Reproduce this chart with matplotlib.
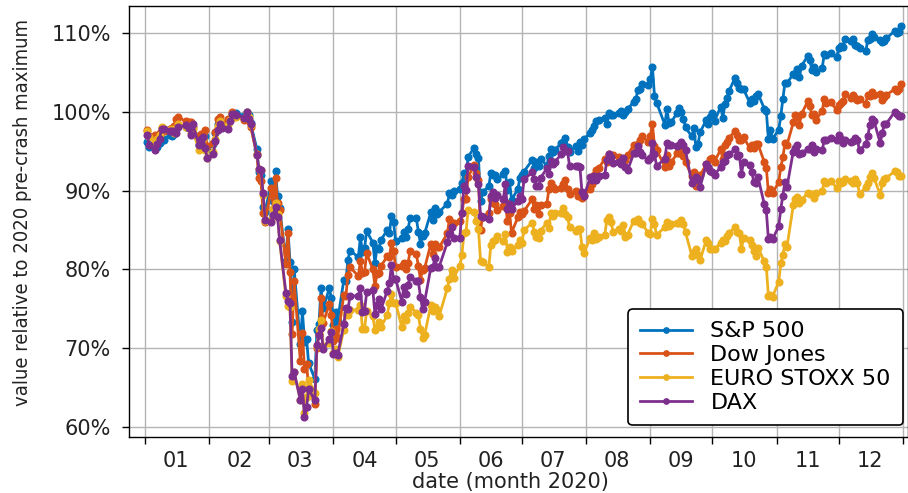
import matplotlib
matplotlib.use("Agg")
import matplotlib.pyplot as plt
import matplotlib.dates as mdates
from matplotlib.ticker import MultipleLocator, FuncFormatter, NullFormatter
import numpy as np
import pandas as pd

# ---------------- data: daily closes 2020 (one value per US trading day) ----------------
holidays = ['2020-01-01', '2020-01-20', '2020-02-17', '2020-04-10', '2020-05-25',
            '2020-07-03', '2020-09-07', '2020-11-26', '2020-12-25']
dates = pd.bdate_range('2020-01-02', '2020-12-31', freq='C', holidays=holidays)

sp500 = [
    3257.85, 3234.85, 3246.28, 3237.18, 3253.05, 3274.70, 3265.35, 3288.13, 3283.15, 3289.29, 3316.81, 3329.62, 3320.79, 3321.75, 3325.54, 3295.47, 3243.63, 3276.24, 3273.40, 3283.66, 3225.52,
    3248.92, 3297.59, 3334.69, 3345.78, 3327.71, 3352.09, 3357.75, 3379.45, 3373.94, 3380.16, 3370.29, 3386.15, 3373.23, 3337.75, 3225.89, 3128.21, 3116.39, 2978.76, 2954.22,
    3090.23, 3003.37, 3130.12, 3023.94, 2972.37, 2746.56, 2882.23, 2741.38, 2480.64, 2711.02, 2386.13, 2529.19, 2398.10, 2409.39, 2304.92, 2237.40, 2447.33, 2475.56, 2630.07, 2541.47, 2626.65, 2584.59,
    2470.50, 2526.90, 2488.65, 2663.68, 2659.41, 2749.98, 2789.82, 2761.63, 2846.06, 2783.36, 2799.55, 2874.56, 2823.16, 2736.56, 2799.31, 2797.80, 2836.74, 2878.48, 2863.39, 2939.51, 2912.43,
    2830.71, 2842.74, 2868.44, 2848.42, 2881.19, 2929.80, 2930.32, 2870.12, 2820.00, 2852.50, 2863.70, 2953.91, 2922.94, 2971.61, 2948.51, 2955.45, 2991.77, 3036.13, 3029.73, 3044.31,
    3055.73, 3080.82, 3122.87, 3112.35, 3193.93, 3232.39, 3207.18, 3190.14, 3002.10, 3041.31, 3066.59, 3124.74, 3113.49, 3115.34, 3097.74, 3117.86, 3131.29, 3050.33, 3083.76, 3009.05, 3053.24, 3100.29,
    3115.86, 3130.01, 3179.72, 3145.32, 3169.94, 3152.05, 3185.04, 3155.22, 3197.52, 3226.56, 3215.57, 3224.73, 3251.84, 3257.30, 3276.02, 3235.66, 3215.63, 3239.41, 3218.44, 3258.44, 3246.22, 3271.12,
    3294.61, 3306.51, 3327.77, 3349.16, 3351.28, 3360.47, 3333.69, 3380.35, 3373.43, 3372.85, 3381.99, 3389.78, 3374.85, 3385.51, 3397.16, 3431.28, 3443.62, 3478.73, 3484.55, 3508.01, 3500.31,
    3526.65, 3580.84, 3455.06, 3426.96, 3331.84, 3398.96, 3339.19, 3340.97, 3383.54, 3401.20, 3385.49, 3357.01, 3319.47, 3281.06, 3315.57, 3236.92, 3246.59, 3298.46, 3351.60, 3335.47, 3363.00,
    3380.80, 3348.42, 3408.60, 3360.97, 3419.44, 3446.83, 3477.14, 3534.22, 3511.93, 3488.67, 3483.34, 3483.81, 3426.92, 3443.12, 3435.56, 3453.49, 3465.39, 3400.97, 3390.68, 3271.03, 3310.11, 3269.96,
    3310.24, 3369.16, 3443.44, 3510.45, 3509.44, 3550.50, 3545.53, 3572.66, 3537.01, 3585.15, 3626.91, 3609.53, 3567.79, 3581.87, 3557.54, 3577.59, 3635.41, 3629.65, 3638.35, 3621.63,
    3662.45, 3669.01, 3666.72, 3699.12, 3691.96, 3702.25, 3672.82, 3668.10, 3663.46, 3647.49, 3694.62, 3701.17, 3722.48, 3709.41, 3694.92, 3687.26, 3690.01, 3703.06, 3735.36, 3727.04, 3732.04, 3756.07,
]

dow = [
    28868.80, 28634.88, 28703.38, 28583.68, 28745.09, 28956.90, 28823.77, 28907.05, 28939.67, 29030.22, 29297.64, 29348.10, 29196.04, 29186.27, 29160.09, 28989.73, 28535.80, 28722.85, 28734.45, 28859.44, 28256.03,
    28399.81, 28807.63, 29290.85, 29379.77, 29102.51, 29276.82, 29276.34, 29551.42, 29423.31, 29398.08, 29232.19, 29348.03, 29219.98, 28992.41, 27960.80, 27081.36, 26957.59, 25766.64, 25409.36,
    26703.32, 25917.41, 27090.86, 26121.28, 25864.78, 23851.02, 25018.16, 23553.22, 21200.62, 23185.62, 20188.52, 21237.38, 19898.92, 20087.19, 19173.98, 18591.93, 20704.91, 21200.55, 22552.17, 21636.78, 22327.48, 21917.16,
    20943.51, 21413.44, 21052.53, 22679.99, 22653.86, 23433.57, 23719.37, 23390.77, 23949.76, 23504.35, 23537.68, 24242.49, 23650.44, 23018.88, 23475.82, 23515.26, 23775.27, 24133.78, 24101.55, 24633.86, 24345.72,
    23723.69, 23749.76, 23883.09, 23664.64, 23875.89, 24331.32, 24221.99, 23764.78, 23247.97, 23625.34, 23685.42, 24597.37, 24206.86, 24575.90, 24474.12, 24465.16, 24995.11, 25548.27, 25400.64, 25383.11,
    25475.02, 25742.65, 26269.89, 26281.82, 27110.98, 27572.44, 27272.30, 26989.99, 25128.17, 25605.54, 25763.16, 26289.98, 26119.61, 26080.10, 25871.46, 26024.96, 26156.10, 25445.94, 25745.60, 25015.55, 25595.80, 25812.88,
    25734.97, 25827.36, 26287.03, 25890.18, 26067.28, 25706.09, 26075.30, 26085.80, 26642.59, 26870.10, 26734.71, 26671.95, 26680.87, 26840.40, 27005.84, 26652.33, 26469.89, 26584.77, 26379.28, 26539.57, 26313.65, 26428.32,
    26664.40, 26828.47, 27201.52, 27386.98, 27433.48, 27791.44, 27686.91, 27976.84, 27896.72, 27931.02, 27844.91, 27778.07, 27692.88, 27739.73, 27930.33, 28308.46, 28248.44, 28331.92, 28492.27, 28653.87, 28430.05,
    28645.66, 29100.50, 28292.73, 28133.31, 27500.89, 27940.47, 27534.58, 27665.64, 27993.33, 27995.60, 28032.38, 27901.98, 27657.42, 27147.70, 27288.18, 26763.13, 26815.44, 27173.96, 27584.06, 27452.66, 27781.70,
    27816.90, 27682.81, 28148.64, 27772.76, 28303.46, 28425.51, 28586.90, 28837.52, 28679.81, 28514.00, 28494.20, 28606.31, 28195.42, 28308.79, 28210.82, 28363.66, 28335.57, 27685.38, 27463.19, 26519.95, 26659.11, 26501.60,
    26925.05, 27480.03, 27847.66, 28390.18, 28323.40, 29157.97, 29420.92, 29397.63, 29080.17, 29479.81, 29950.44, 29783.35, 29438.42, 29483.23, 29263.48, 29591.27, 30046.24, 29872.47, 29910.37, 29638.64,
    29823.92, 29883.79, 29969.52, 30218.26, 30069.79, 30173.88, 30068.81, 29999.26, 30046.37, 29861.55, 30199.31, 30154.54, 30303.37, 30179.05, 30216.45, 30015.51, 30129.83, 30199.87, 30403.97, 30335.67, 30409.56, 30606.48,
]

eurostoxx = [
    3773.37, 3741.12, 3717.83, 3733.45, 3752.00, 3789.59, 3780.75, 3778.65, 3780.10, 3764.21, 3775.22, 3808.29, 3793.00, 3798.80, 3760.00, 3779.39, 3677.36, 3710.10, 3733.00, 3680.00, 3640.91,
    3667.02, 3733.88, 3796.84, 3823.00, 3798.49, 3799.87, 3827.24, 3854.48, 3840.00, 3840.35, 3834.00, 3865.18, 3840.00, 3800.61, 3653.17, 3583.00, 3580.00, 3455.00, 3329.49,
    3337.00, 3390.00, 3420.00, 3363.00, 3232.07, 2959.07, 2910.00, 2905.00, 2545.23, 2586.02, 2450.37, 2528.00, 2385.82, 2466.00, 2548.50, 2485.54, 2715.00, 2800.00, 2845.00, 2716.00, 2729.00, 2786.90,
    2680.00, 2700.00, 2662.00, 2795.00, 2875.00, 2870.00, 2892.00, 2892.00, 2918.00, 2799.00, 2800.00, 2888.00, 2862.00, 2795.00, 2810.00, 2834.00, 2809.00, 2869.00, 2926.00, 2972.00, 2927.93,
    2927.93, 2809.00, 2863.00, 2843.00, 2879.00, 2908.00, 2879.00, 2868.00, 2801.00, 2757.00, 2770.00, 2915.00, 2888.00, 2905.00, 2890.00, 2862.00, 3000.00, 3047.00, 3090.00, 3050.20,
    3108.00, 3163.00, 3270.00, 3277.00, 3384.29, 3373.00, 3330.00, 3291.00, 3135.00, 3130.00, 3102.00, 3212.00, 3230.00, 3238.00, 3254.00, 3229.00, 3268.00, 3178.00, 3203.00, 3184.00, 3212.00, 3234.07,
    3223.00, 3286.00, 3320.00, 3276.00, 3250.00, 3245.00, 3283.00, 3320.00, 3295.00, 3371.00, 3356.00, 3367.00, 3371.00, 3392.00, 3362.00, 3350.00, 3299.00, 3281.00, 3291.00, 3292.00, 3202.00, 3174.32,
    3245.00, 3238.00, 3273.00, 3241.00, 3253.00, 3262.00, 3336.00, 3349.00, 3323.00, 3278.00, 3290.00, 3280.00, 3309.00, 3250.00, 3263.00, 3330.00, 3331.00, 3338.00, 3320.00, 3315.00, 3272.51,
    3267.00, 3338.00, 3314.00, 3260.00, 3300.00, 3323.00, 3306.00, 3316.00, 3321.00, 3320.00, 3335.00, 3316.00, 3274.00, 3160.00, 3175.00, 3193.00, 3163.00, 3137.00, 3236.00, 3220.00, 3193.61,
    3194.00, 3190.00, 3223.00, 3238.00, 3232.00, 3256.00, 3273.00, 3299.00, 3275.00, 3270.00, 3193.00, 3245.00, 3234.00, 3210.00, 3180.00, 3160.00, 3198.00, 3132.00, 3105.00, 2963.00, 2966.00, 2958.21,
    3031.00, 3123.00, 3165.00, 3218.00, 3204.00, 3406.00, 3437.00, 3449.00, 3420.00, 3432.00, 3468.00, 3463.00, 3463.00, 3442.00, 3469.00, 3479.00, 3524.00, 3518.00, 3527.00, 3492.54,
    3525.00, 3517.00, 3520.00, 3535.00, 3527.00, 3518.00, 3534.00, 3516.00, 3463.00, 3496.00, 3516.00, 3545.00, 3565.00, 3541.00, 3459.00, 3515.00, 3535.00, 3542.00, 3574.00, 3568.00, 3553.00, 3552.64,
]

dax = [
    13385.93, 13219.14, 13126.99, 13226.83, 13320.18, 13495.06, 13483.31, 13451.52, 13456.49, 13432.30, 13429.43, 13526.13, 13555.87, 13515.75, 13388.42, 13576.68, 13204.77, 13323.69, 13345.00, 13157.12, 12981.97,
    13045.19, 13281.74, 13478.33, 13574.82, 13513.81, 13494.03, 13627.84, 13749.78, 13745.43, 13744.21, 13681.18, 13789.00, 13664.00, 13579.33, 13035.24, 12790.49, 12774.73, 12367.46, 11890.35,
    11857.87, 11985.39, 12127.69, 11944.71, 11541.87, 10625.02, 10475.49, 10438.68, 9161.13, 9232.08, 8742.25, 8939.10, 8441.71, 8610.43, 8928.95, 8741.15, 9700.57, 9874.26, 10000.96, 9632.52, 9815.97, 9935.84,
    9544.75, 9570.82, 9525.77, 10075.17, 10356.70, 10332.89, 10564.74, 10564.74, 10696.56, 10279.76, 10301.60, 10625.78, 10675.90, 10249.85, 10415.03, 10513.58, 10336.09, 10659.99, 10795.63, 11107.74, 10861.64,
    10861.64, 10466.80, 10729.46, 10606.20, 10759.27, 10904.48, 10824.99, 10819.50, 10542.66, 10337.02, 10465.17, 11058.87, 11075.29, 11223.71, 11065.93, 11073.87, 11504.65, 11657.08, 11781.13, 11586.85,
    11586.85, 12021.28, 12487.36, 12430.56, 12847.68, 12819.59, 12642.97, 12530.16, 11970.29, 11949.28, 11911.35, 12315.66, 12382.14, 12281.53, 12330.76, 12262.97, 12523.76, 12093.87, 12177.87, 12089.39, 12232.12, 12310.93,
    12260.57, 12608.46, 12733.45, 12616.80, 12494.81, 12489.46, 12633.71, 12799.97, 12697.36, 12930.98, 12874.97, 12919.61, 13046.92, 13171.83, 13104.25, 13103.39, 12838.06, 12838.66, 12835.28, 12822.26, 12379.65, 12313.36,
    12646.98, 12600.87, 12660.25, 12591.68, 12674.88, 12687.53, 12946.89, 13058.63, 12993.71, 12901.34, 12920.66, 12881.76, 12977.33, 12830.00, 12764.80, 13066.54, 13061.62, 13190.15, 13096.17, 13033.20, 12945.38,
    12974.25, 13243.43, 13057.77, 12842.66, 12968.33, 13237.21, 13208.89, 13202.84, 13193.66, 13217.67, 13255.37, 13208.12, 13116.25, 12542.44, 12594.39, 12642.97, 12606.57, 12469.20, 12870.87, 12825.82, 12760.73,
    12730.77, 12689.04, 12828.31, 12906.02, 12928.60, 13042.21, 13051.23, 13138.41, 13018.99, 13028.06, 12703.75, 12908.99, 12854.66, 12736.95, 12557.64, 12543.06, 12645.75, 12177.18, 12063.57, 11560.51, 11598.07, 11556.48,
    11788.28, 12088.98, 12324.22, 12568.09, 12480.02, 13095.97, 13163.11, 13216.18, 13052.95, 13076.72, 13138.61, 13133.47, 13201.89, 13086.16, 13137.25, 13126.97, 13292.44, 13289.80, 13335.68, 13291.16,
    13382.30, 13313.24, 13252.86, 13298.96, 13271.00, 13278.49, 13340.26, 13295.73, 13114.30, 13223.16, 13362.87, 13565.98, 13667.29, 13630.51, 13246.30, 13418.11, 13587.23, 13587.23, 13790.29, 13761.38, 13718.78, 13718.78,
]

series_names = ['S&P 500', 'Dow Jones', 'EURO STOXX 50', 'DAX']
series_values = [sp500, dow, eurostoxx, dax]
series_colors = ['#0072BD', '#D95319', '#EDB120', '#7E2F8E']
crash_start = pd.Timestamp('2020-02-22')

# ---------------- figure ----------------
plt.rcParams['font.family'] = ['DejaVu Sans']
fig = plt.figure(figsize=(9.08, 4.93), dpi=100)
ax = fig.add_axes([0.1421, 0.1142, 0.8579, 0.8736])

for name, vals, col in zip(series_names, series_values, series_colors):
    v = np.asarray(vals, dtype=float)
    pre_max = v[dates < crash_start].max()
    ax.plot(dates, v / pre_max * 100, '-o', color=col, lw=2.0, ms=4.8,
            label=name, zorder=3)

ax.set_xlim(pd.Timestamp('2019-12-24 06:30'), pd.Timestamp('2021-01-03 10:00'))
ax.set_ylim(58.73, 113.47)

ax.yaxis.set_major_locator(MultipleLocator(10))
ax.yaxis.set_major_formatter(FuncFormatter(lambda v, p: f'{v:.0f}%'))
ax.xaxis.set_major_locator(mdates.MonthLocator())
ax.xaxis.set_major_formatter(NullFormatter())
ax.xaxis.set_minor_locator(mdates.MonthLocator(bymonthday=16))
ax.xaxis.set_minor_formatter(mdates.DateFormatter('%m'))

ax.tick_params(axis='x', which='minor', length=0, pad=10, labelsize=15, colors='#222222')
ax.tick_params(axis='x', which='major', length=5, width=1)
ax.tick_params(axis='y', which='major', length=5, width=1, pad=8, labelsize=15, colors='#222222')
ax.tick_params(axis='both', which='both', color='black')

ax.grid(True, which='major', color='#b4b4b4', lw=1.0, zorder=0)
for sp in ax.spines.values():
    sp.set_linewidth(1.0)

ax.set_xlabel('date (month 2020)', fontsize=15, color='#222222')
ax.xaxis.set_label_coords(0.489, -0.083)
ax.set_ylabel('value relative to 2020 pre-crash maximum', fontsize=14.5,
              fontstretch='condensed', color='#222222')
ax.yaxis.set_label_coords(-0.124, 0.52)

leg = ax.legend(loc='lower right', bbox_to_anchor=(0.9936, 0.0272), borderaxespad=0,
                fontsize=16, frameon=True, fancybox=True, framealpha=1,
                edgecolor='black', handlelength=2.3, handletextpad=0.85,
                labelspacing=0.17, borderpad=0.55, markerscale=0.8)
leg.get_frame().set_linewidth(1.2)
leg.set_zorder(5)

fig.savefig('out.png', dpi=100)
